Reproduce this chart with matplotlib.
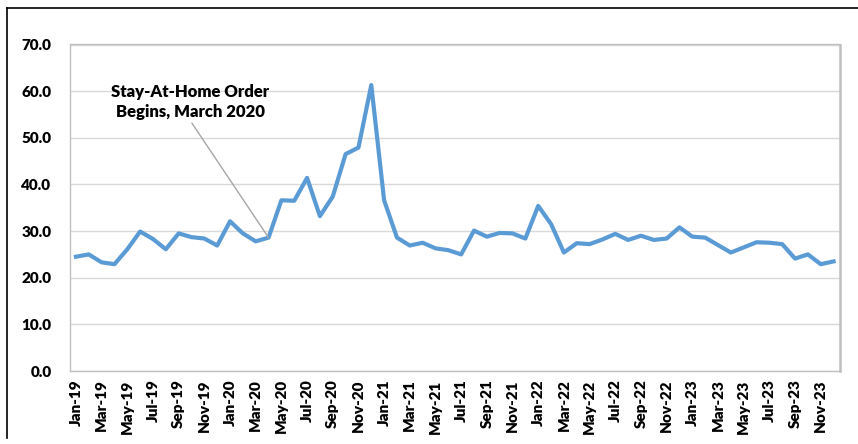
import matplotlib
matplotlib.use("Agg")
import matplotlib.pyplot as plt
from matplotlib.lines import Line2D
import numpy as np

months = ["Jan", "Feb", "Mar", "Apr", "May", "Jun", "Jul", "Aug", "Sep", "Oct", "Nov", "Dec"]
years = ["19", "20", "21", "22", "23"]
dates = [f"{m}-{y}" for y in years for m in months]

values = [
    24.5, 25.0, 23.3, 22.9, 26.1, 29.9, 28.3, 26.1, 29.5, 28.7, 28.4, 26.9,
    32.1, 29.5, 27.8, 28.6, 36.6, 36.5, 41.4, 33.2, 37.4, 46.5, 47.9, 61.3,
    36.6, 28.6, 26.9, 27.5, 26.3, 25.9, 25.0, 30.1, 28.8, 29.6, 29.5, 28.4,
    35.4, 31.5, 25.4, 27.4, 27.2, 28.2, 29.4, 28.1, 29.0, 28.1, 28.4, 30.8,
    28.8, 28.6, 27.0, 25.4, 26.5, 27.6, 27.5, 27.2, 24.1, 25.0, 22.9, 23.5,
]
yticks = [0, 10, 20, 30, 40, 50, 60, 70]
annot_text = "Stay-At-Home Order\nBegins, March 2020"
annot_index = 15

plt.rcParams['font.family'] = ['Lato', 'DejaVu Sans']

W, H = 858, 444
fig = plt.figure(figsize=(W / 100, H / 100), dpi=100)
L, R, T, B = 69.5, 840, 44.5, 371
ax = fig.add_axes([L / W, 1 - B / H, (R - L) / W, (B - T) / H])

x = np.arange(len(values))
ax.plot(x, values, color="#5B9BD5", linewidth=3.0, solid_joinstyle="round", zorder=3)

ax.set_xlim(-0.5, len(values) - 0.5)
ax.set_ylim(0, 70)
ax.set_yticks(yticks)
ax.set_yticklabels([f"{v:.1f}" for v in yticks], fontsize=11, fontweight="heavy")
ax.set_xticks(x[::2])
ax.set_xticklabels(dates[::2], rotation=90, fontsize=11, fontweight="heavy")
ax.tick_params(axis="x", length=0, pad=6)
ax.tick_params(axis="y", length=0, pad=13)
ax.grid(axis="y", color="#D9D9D9", linewidth=1)
ax.set_axisbelow(True)
for s in ["left", "bottom", "top"]:
    ax.spines[s].set_color("#BFBFBF")
    ax.spines[s].set_linewidth(1.0)
ax.spines["right"].set_color("#BFBFBF")
ax.spines["right"].set_linewidth(1.8)

ax.annotate(annot_text, xy=(x[annot_index], values[annot_index]),
            xytext=(190 / W, 1 - 102 / H), textcoords="figure fraction",
            ha="center", va="center", fontsize=12, fontweight="heavy",
            linespacing=1.35,
            arrowprops=dict(arrowstyle="-", color="#A6A6A6", linewidth=1,
                            shrinkA=0, shrinkB=0,
                            relpos=(0.5, 0.0)))

fig.add_artist(Line2D([7 / W, 1], [1 - 8 / H, 1 - 8 / H], color="black", linewidth=1.2, transform=fig.transFigure))
fig.add_artist(Line2D([7 / W, 7 / W], [1 - 8 / H, 1 - 438 / H], color="black", linewidth=1.2, transform=fig.transFigure))

fig.savefig("out.png", dpi=100)
